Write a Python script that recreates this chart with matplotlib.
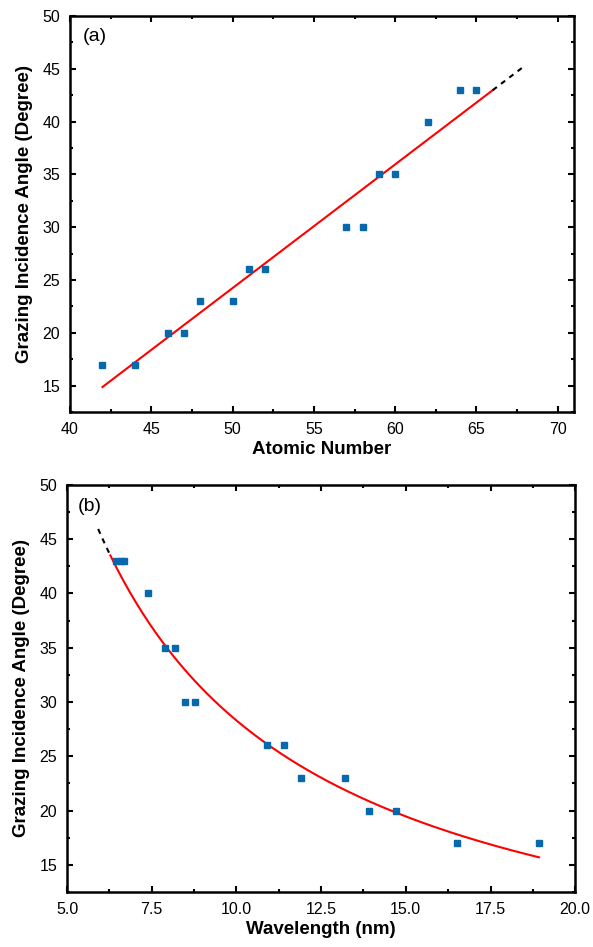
import numpy as np
import matplotlib
matplotlib.use("Agg")
import matplotlib.pyplot as plt
from matplotlib.ticker import AutoMinorLocator

plt.rcParams['font.family'] = ['Liberation Sans', 'DejaVu Sans']

# ---- data ----
atomic_number = [42, 44, 46, 47, 48, 50, 51, 52, 57, 58, 59, 60, 62, 64, 65]
angle_a = [17, 17, 20, 20, 23, 23, 26, 26, 30, 30, 35, 35, 40, 43, 43]

wavelength = [6.46, 6.58, 6.69, 7.39, 7.88, 8.18, 8.49, 8.78, 10.90, 11.39,
              11.90, 13.21, 13.90, 14.71, 16.52, 18.93]
angle_b = [43, 43, 43, 40, 35, 35, 30, 30, 26, 26, 23, 23, 20, 20, 17, 17]

# fit ranges (solid / extrapolated dashed)
fit_a_solid = (42, 66)
fit_a_dash = (66, 68)
# power-law fit for (b): angle = coef * wavelength ** expo
fit_b_coef = 237.6
fit_b_expo = -0.924
fit_b_solid = (6.28, 18.93)
fit_b_dash = (5.92, 6.28)

x_ticks_a = [40, 45, 50, 55, 60, 65, 70]
x_ticks_b = [5.0, 7.5, 10.0, 12.5, 15.0, 17.5, 20.0]
y_ticks = [15, 20, 25, 30, 35, 40, 45, 50]

marker_color = '#0868ac'

fig = plt.figure(figsize=(5.93, 9.47), dpi=100)
ax1 = fig.add_axes([0.118, 0.5649, 0.850, 0.4182])
ax2 = fig.add_axes([0.113, 0.0581, 0.857, 0.4298])


def style(ax, xticks, fmt):
    for s in ax.spines.values():
        s.set_linewidth(1.8)
    ax.set_yticks(y_ticks)
    ax.set_xticks(xticks)
    ax.set_xticklabels([fmt.format(v) for v in xticks])
    ax.set_yticklabels([str(v) for v in y_ticks])
    ax.xaxis.set_minor_locator(AutoMinorLocator(2))
    ax.yaxis.set_minor_locator(AutoMinorLocator(2))
    ax.tick_params(which='both', direction='in', top=True, right=True,
                   width=1.5, labelsize=11.5, pad=7)
    ax.tick_params(which='major', length=4.5)
    ax.tick_params(which='minor', length=2.5)
    ax.set_ylim(12.5, 50)
    ax.set_ylabel('Grazing Incidence Angle (Degree)', fontsize=13.5,
                  fontweight='bold', labelpad=7)


# ---- panel (a) ----
slope, intercept = np.polyfit(atomic_number, angle_a, 1)
xs = np.linspace(*fit_a_solid, 50)
ax1.plot(xs, slope * xs + intercept, color='red', lw=1.5, zorder=2)
xd = np.linspace(*fit_a_dash, 10)
ax1.plot(xd, slope * xd + intercept, color='black', lw=1.5, ls=(0, (2.5, 2.5)), zorder=2)
ax1.plot(atomic_number, angle_a, 's', color=marker_color, ms=5, mec=marker_color, zorder=3)
style(ax1, x_ticks_a, '{:d}')
ax1.set_xlim(40, 71)
ax1.set_xlabel('Atomic Number', fontsize=13.5, fontweight='bold', labelpad=3)
ax1.text(0.025, 0.947, '(a)', transform=ax1.transAxes, fontsize=14, va='center', ha='left')

# ---- panel (b) ----
ls_ = np.linspace(*fit_b_solid, 200)
ax2.plot(ls_, fit_b_coef * ls_ ** fit_b_expo, color='red', lw=1.5, zorder=2)
ld = np.linspace(*fit_b_dash, 20)
ax2.plot(ld, fit_b_coef * ld ** fit_b_expo, color='black', lw=1.5, ls=(0, (2.5, 2.5)), zorder=2)
ax2.plot(wavelength, angle_b, 's', color=marker_color, ms=5, mec=marker_color, zorder=3)
style(ax2, x_ticks_b, '{:.1f}')
ax2.set_xlim(5, 20)
ax2.set_xlabel('Wavelength (nm)', fontsize=13.5, fontweight='bold', labelpad=3)
ax2.text(0.022, 0.947, '(b)', transform=ax2.transAxes, fontsize=14, va='center', ha='left')

fig.savefig('out.png', dpi=100)
